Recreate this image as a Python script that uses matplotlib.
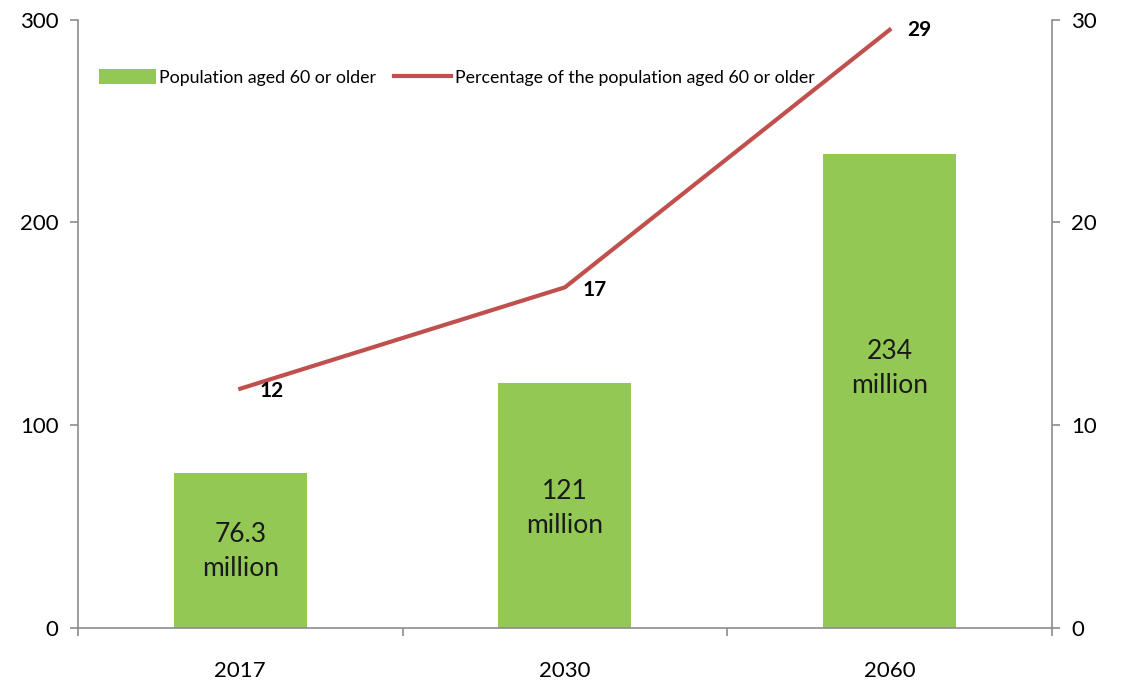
import matplotlib.pyplot as plt
import numpy as np

years = ["2017", "2030", "2060"]
population_m = [76.3, 121, 234]
pop_labels = ["76.3\nmillion", "121\nmillion", "234\nmillion"]
share_pct = [11.8, 16.8, 29.5]
share_labels = ["12", "17", "29"]

GREEN = "#92c853"
RED = "#c0504d"
GRAY = "#8c8c8c"

plt.rcParams["font.family"] = ["Lato", "DejaVu Sans"]

fig = plt.figure(figsize=(11.22, 6.81), dpi=100)
ax = fig.add_axes([0.0695, 0.078, 0.868, 0.893])
ax2 = ax.twinx()

x = np.arange(len(years))
bars = ax.bar(x, population_m, width=0.41, color=GREEN, label="Population aged 60 or older", zorder=2)
label_y = [37.5, 59, 128]
for xi, y, lab in zip(x, label_y, pop_labels):
    ax.text(xi, y, lab, ha="center", va="center", fontsize=19, color="#1a1a1a",
            linespacing=1.45)

line, = ax2.plot(x, share_pct, color=RED, lw=3,
                 label="Percentage of the population aged 60 or older", zorder=3)
offsets = [(0.06, -0.1), (0.055, -0.15), (0.055, 0.0)]
for xi, v, lab, (dx, dy) in zip(x, share_pct, share_labels, offsets):
    ax2.text(xi + dx, v + dy, lab, ha="left", va="center", fontsize=15, fontweight="bold")

ax.set_xlim(-0.5, 2.5)
ax.set_ylim(0, 300)
ax2.set_ylim(0, 30)
ax.set_yticks([0, 100, 200, 300])
ax2.set_yticks([0, 10, 20, 30])
ax.set_xticks(x)
ax.set_xticklabels(years)
ax.set_xticks([-0.5, 0.5, 1.5, 2.5], minor=True)

for a in (ax, ax2):
    a.spines["top"].set_visible(False)
    for s in ("left", "right", "bottom"):
        a.spines[s].set_color(GRAY)
        a.spines[s].set_linewidth(1.2)
    a.tick_params(axis="y", labelsize=16, color=GRAY, length=6, width=1.2, pad=8)
ax.spines["right"].set_visible(False)
ax2.spines["left"].set_visible(False)
ax2.spines["bottom"].set_visible(False)
ax.tick_params(axis="x", which="major", length=0, labelsize=16, pad=24)
ax.tick_params(axis="x", which="minor", length=6, width=1.2, color=GRAY)

ax.legend(handles=[bars, line], loc="upper left", bbox_to_anchor=(0.005, 0.945), ncol=2,
          frameon=False, fontsize=12.8, handlelength=3.2, handleheight=0.9,
          columnspacing=1.0, handletextpad=0.2)

fig.savefig("out.png", dpi=100)
